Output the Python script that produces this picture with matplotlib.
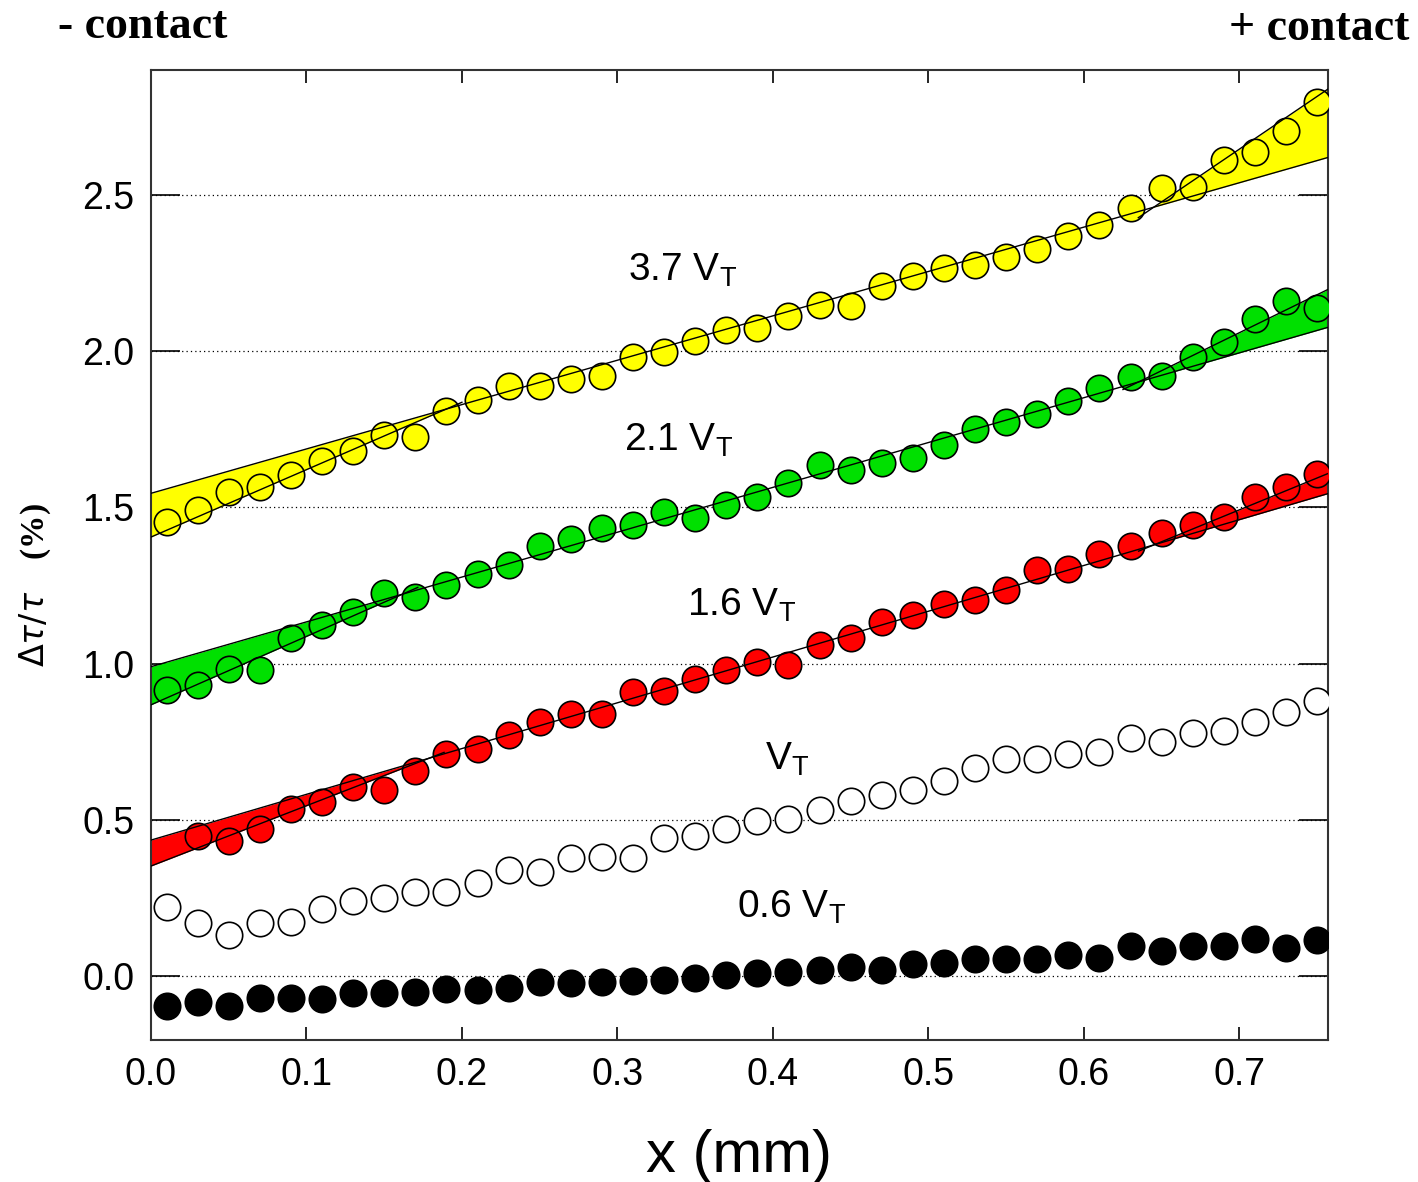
import numpy as np
import matplotlib
matplotlib.use('Agg')
import matplotlib.pyplot as plt

plt.rcParams['font.family'] = ['Liberation Sans', 'DejaVu Sans']

# position along the sample (mm)
x_pos = [0.01, 0.03, 0.05, 0.07, 0.09, 0.11, 0.13, 0.15, 0.17, 0.19,
         0.21, 0.23, 0.25, 0.27, 0.29, 0.31, 0.33, 0.35, 0.37, 0.39,
         0.41, 0.43, 0.45, 0.47, 0.49, 0.51, 0.53, 0.55, 0.57, 0.59,
         0.61, 0.63, 0.65, 0.67, 0.69, 0.71, 0.73, 0.75]

# delta tau / tau (%) for each bias
v06 = [-0.096, -0.084, -0.096, -0.072, -0.072, -0.073, -0.054, -0.056, -0.050, -0.043,
       -0.045, -0.037, -0.019, -0.021, -0.019, -0.016, -0.014, -0.005, 0.002, 0.009,
       0.013, 0.019, 0.030, 0.019, 0.037, 0.040, 0.053, 0.053, 0.053, 0.066,
       0.059, 0.096, 0.080, 0.096, 0.096, 0.120, 0.091, 0.115]
v10 = [0.222, 0.171, 0.131, 0.171, 0.173, 0.216, 0.239, 0.251, 0.270, 0.268,
       0.297, 0.339, 0.334, 0.377, 0.382, 0.377, 0.441, 0.448, 0.471, 0.497,
       0.502, 0.531, 0.561, 0.579, 0.595, 0.625, 0.665, 0.694, 0.694, 0.710,
       0.718, 0.761, 0.750, 0.778, 0.785, 0.814, 0.844, 0.881]
v16 = [0.447, 0.433, 0.470, 0.534, 0.558, 0.604, 0.596, 0.657, 0.710,
       0.726, 0.771, 0.814, 0.839, 0.839, 0.908, 0.911, 0.951, 0.978, 1.005,
       0.995, 1.058, 1.083, 1.133, 1.157, 1.192, 1.205, 1.237, 1.298, 1.303,
       1.351, 1.377, 1.417, 1.444, 1.468, 1.534, 1.566, 1.606]
v21 = [0.917, 0.933, 0.983, 0.981, 1.081, 1.122, 1.165, 1.226, 1.213, 1.250,
       1.287, 1.316, 1.376, 1.400, 1.434, 1.442, 1.485, 1.466, 1.506, 1.534,
       1.579, 1.635, 1.619, 1.642, 1.659, 1.699, 1.752, 1.773, 1.799, 1.840,
       1.882, 1.918, 1.921, 1.980, 2.028, 2.102, 2.160, 2.138]
v37 = [1.453, 1.493, 1.549, 1.565, 1.605, 1.647, 1.682, 1.731, 1.725, 1.808,
       1.845, 1.888, 1.888, 1.912, 1.920, 1.982, 1.998, 2.032, 2.069, 2.073,
       2.112, 2.147, 2.144, 2.208, 2.240, 2.265, 2.276, 2.300, 2.326, 2.369,
       2.404, 2.457, 2.521, 2.527, 2.612, 2.636, 2.706, 2.796]

# linear fits (intercept, slope): left part, middle part, right part
fits_37 = [(1.405, 2.157), (1.545, 1.420), (0.284, 3.375)]
fits_21 = [(0.868, 2.190), (0.990, 1.435), (0.358, 2.430)]
fits_16 = [(0.352, 1.930), (0.435, 1.465), (0.064, 2.040)]

XMAX = 0.757
YMIN, YMAX = -0.205, 2.9

fig = plt.figure(figsize=(14.18, 11.82), dpi=100)
ax = fig.add_axes([0.1065, 0.1201, 0.83, 0.8207])


def draw_fits(fits, color):
    (a0, b0), (a1, b1), (a2, b2) = fits
    xl = (a1 - a0) / (b0 - b1)
    xr = (a2 - a1) / (b1 - b2)
    xs = np.linspace(0, xl, 50)
    ax.fill_between(xs, a0 + b0 * xs, a1 + b1 * xs, color=color, lw=0, zorder=2)
    xs2 = np.linspace(xr, XMAX, 50)
    ax.fill_between(xs2, a1 + b1 * xs2, a2 + b2 * xs2, color=color, lw=0, zorder=2)
    xx = np.array([0, XMAX])
    ax.plot(xx, a1 + b1 * xx, color='black', lw=1, zorder=5)
    xx = np.array([0, xl + 0.01])
    ax.plot(xx, a0 + b0 * xx, color='black', lw=1, zorder=5)
    xx = np.array([xr - 0.01, XMAX])
    ax.plot(xx, a2 + b2 * xx, color='black', lw=1, zorder=5)


draw_fits(fits_37, '#FFFF00')
draw_fits(fits_21, '#00E000')
draw_fits(fits_16, '#FF0000')

mk = dict(marker='o', ms=19, mec='black', mew=1.2, ls='none', zorder=4)
ax.plot(x_pos, v37, mfc='#FFFF00', **mk)
ax.plot(x_pos, v21, mfc='#00E000', **mk)
ax.plot(x_pos[1:], v16, mfc='#FF0000', **mk)
ax.plot(x_pos, v10, mfc='white', **mk)
ax.plot(x_pos, v06, mfc='black', **mk)

lab = dict(fontsize=28, ha='left', va='baseline')
ax.text(0.307, 2.224, r'3.7 $\mathregular{V_T}$', **lab)
ax.text(0.304, 1.680, r'2.1 $\mathregular{V_T}$', **lab)
ax.text(0.345, 1.152, r'1.6 $\mathregular{V_T}$', **lab)
ax.text(0.395, 0.659, r'$\mathregular{V_T}$', **lab)
ax.text(0.377, 0.186, r'0.6 $\mathregular{V_T}$', **lab)

ax.set_xlim(0, XMAX)
ax.set_ylim(YMIN, YMAX)
ax.set_xticks([0.0, 0.1, 0.2, 0.3, 0.4, 0.5, 0.6, 0.7])
ax.set_yticks([0.0, 0.5, 1.0, 1.5, 2.0, 2.5])
ax.xaxis.set_major_formatter(matplotlib.ticker.FormatStrFormatter('%.1f'))
ax.yaxis.set_major_formatter(matplotlib.ticker.FormatStrFormatter('%.1f'))
ax.tick_params(axis='x', direction='in', top=True, length=9.5, width=1.2,
               labelsize=27, pad=12)
ax.tick_params(axis='y', direction='in', right=True, length=21, width=1.2,
               labelsize=27, pad=12)
ax.yaxis.grid(True, linestyle=(0, (1, 2.5)), color='black', lw=0.9)
ax.set_axisbelow(True)
for s in ax.spines.values():
    s.set_linewidth(1.5)
    s.set_color('#333333')

ax.set_xlabel('x (mm)', fontsize=43, labelpad=26)
fig.text(0.025, 0.505, r'$\Delta\tau/\tau$    (%)', rotation=90, ha='center', va='center',
         fontsize=24, fontweight='bold', family='Liberation Serif')
fig.text(0.041, 0.968, '- contact', fontsize=33, fontweight='bold',
         family='Liberation Serif', ha='left', va='baseline')
fig.text(0.994, 0.966, '+ contact', fontsize=33, fontweight='bold',
         family='Liberation Serif', ha='right', va='baseline')

plt.savefig('out.png', dpi=100)
